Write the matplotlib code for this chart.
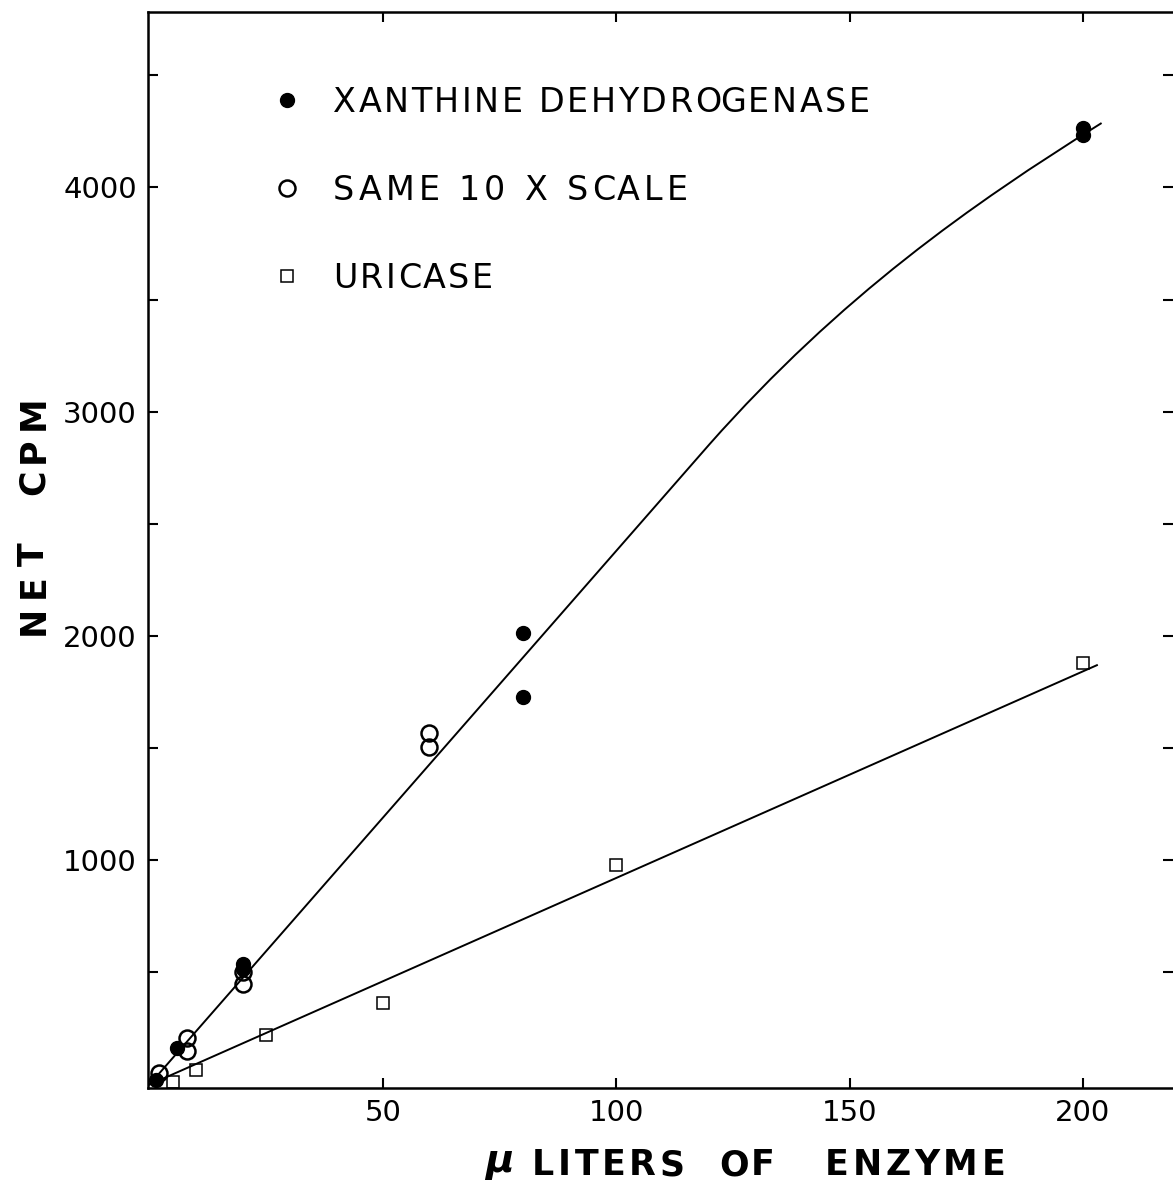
import matplotlib
matplotlib.use("Agg")
import matplotlib.pyplot as plt
from matplotlib.ticker import FixedLocator
from matplotlib.path import Path
from matplotlib.patches import PathPatch

W, H, DPI = 1173, 1181, 100

# Measured points
xdh_x = [200, 200, 80, 80, 20, 20, 6, 1.5]
xdh_y = [4265, 4234, 2013, 1728, 540, 515, 165, 20]

same_x = [60, 60, 20, 20, 8, 8, 2]
same_y = [1567, 1505, 500, 450, 210, 150, 50]

uric_x = [200, 100, 50, 25, 10, 5]
uric_y = [1880, 980, 364, 221, 65, 12]

# Hand-fitted curves: straight start, then a cubic bend up to the end point
xdh_fit_x = [0, 120, 148, 176, 204]
xdh_fit_y = [0, 2855, 3513, 3923, 4287]
uric_fit_x = [0, 203]
uric_fit_y = [0, 1870]

x_ticks = [50, 100, 150, 200]
y_major = [1000, 2000, 3000, 4000]
y_minor = [500, 1500, 2500, 3500, 4500]

legend_labels = ["XANTHINE DEHYDROGENASE", "SAME 10 X SCALE", "URICASE"]

fig = plt.figure(figsize=(W / DPI, H / DPI), dpi=DPI)
renderer = fig.canvas.get_renderer()

ax = fig.add_axes([148 / W, (H - 1088) / H, (W - 148) / W, (1088 - 12) / H])
ax.set_xlim(-0.3, 219.3)
ax.set_ylim(-15, 4782)

curve = Path(list(zip(xdh_fit_x, xdh_fit_y)),
             [Path.MOVETO, Path.LINETO, Path.CURVE4, Path.CURVE4, Path.CURVE4])
ax.add_patch(PathPatch(curve, facecolor="none", edgecolor="black", lw=1.4, zorder=2))
ax.plot(uric_fit_x, uric_fit_y, color="black", lw=1.4, zorder=2)

ax.plot(xdh_x, xdh_y, "o", ms=10, mfc="black", mec="black", ls="none", zorder=3)
ax.plot(same_x, same_y, "o", ms=11.5, mfc="none", mec="black", mew=1.8, ls="none", zorder=3)
ax.plot(uric_x, uric_y, "s", ms=8.5, mfc="none", mec="black", mew=1.1, ls="none", zorder=3)

for side in ["left", "top", "bottom"]:
    ax.spines[side].set_linewidth(1.8)
ax.spines["right"].set_visible(False)

ax.set_xticks(x_ticks)
ax.set_xticklabels([str(v) for v in x_ticks])
ax.set_yticks(y_major)
ax.set_yticklabels([str(v) for v in y_major])
ax.yaxis.set_minor_locator(FixedLocator(y_minor))
ax.tick_params(which="both", direction="in", length=7.2, width=1.5,
               top=True, right=True, labelsize=21, pad=8)
for lab in ax.get_xticklabels() + ax.get_yticklabels():
    lab.set_fontfamily("DejaVu Sans")


def advance(ch, **kw):
    t1 = fig.text(0, 0, "X" + ch + "X", **kw)
    t2 = fig.text(0, 0, "XX", **kw)
    w = t1.get_window_extent(renderer).width - t2.get_window_extent(renderer).width
    t1.remove()
    t2.remove()
    return w


def spaced_text(x0, y0, s, target, vertical=False, **kw):
    """Draw s letter by letter from pixel (x0, y0), top-left origin, spanning target pixels."""
    widths = [advance(ch, **kw) for ch in s]
    last = fig.text(0, 0, s[-1], **kw)
    last_w = last.get_window_extent(renderer).width
    last.remove()
    natural = sum(widths[:-1]) + last_w
    track = (target - natural) / max(len(s) - 1, 1)
    pos = 0.0
    for ch, w in zip(s, widths):
        if vertical:
            fig.text(x0 / W, (H - (y0 - pos)) / H, ch, rotation=90,
                     rotation_mode="anchor", ha="left", va="baseline", **kw)
        else:
            fig.text((x0 + pos) / W, (H - y0) / H, ch, ha="left", va="baseline", **kw)
        pos += w + track


# Legend
leg_y = [100, 188, 276]
fig.lines.append(plt.Line2D([287 / W], [(H - leg_y[0]) / H], marker="o", ms=10,
                            mfc="black", mec="black", transform=fig.transFigure))
fig.lines.append(plt.Line2D([287 / W], [(H - leg_y[1]) / H], marker="o", ms=11.5,
                            mfc="none", mec="black", mew=1.8, transform=fig.transFigure))
fig.lines.append(plt.Line2D([287 / W], [(H - leg_y[2]) / H], marker="s", ms=8,
                            mfc="none", mec="black", mew=1.1, transform=fig.transFigure))

leg_kw = dict(fontsize=24, family="DejaVu Sans", color="black")
spaced_text(333, 112, legend_labels[0], 537, **leg_kw)
spaced_text(333, 200, legend_labels[1], 355, **leg_kw)
spaced_text(333, 288, legend_labels[2], 160, **leg_kw)

# Axis titles
lab_kw = dict(fontsize=25, family="DejaVu Sans", weight="bold", color="black")
spaced_text(44, 635, "NET  CPM", 240, vertical=True, **lab_kw)
fig.text(485 / W, (H - 1172) / H, "\u03bc", ha="left", va="baseline",
         fontsize=28, family="DejaVu Sans", weight="bold", style="italic")
spaced_text(532, 1175, "LITERS  OF   ENZYME", 473, **lab_kw)

fig.savefig("out.png", dpi=DPI)
